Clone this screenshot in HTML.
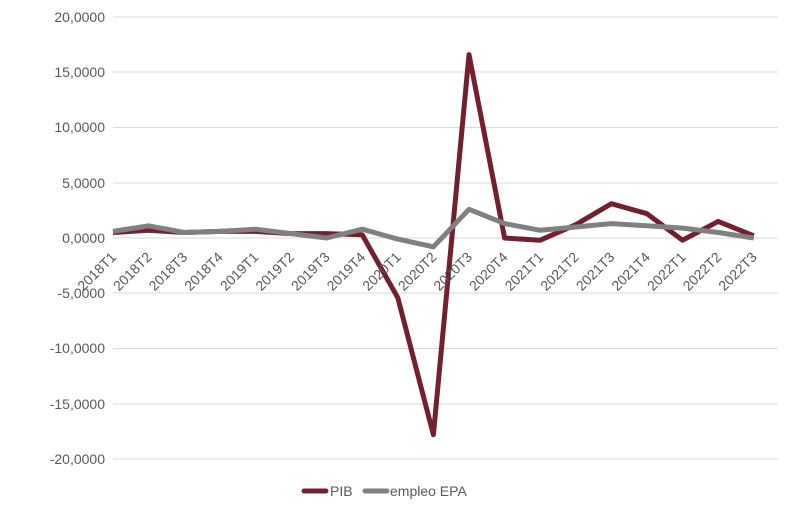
<!DOCTYPE html>
<html><head><meta charset="utf-8"><style>body{margin:0;background:#fff}svg{display:block}text{font-family:"Liberation Sans",sans-serif;fill:#595959;font-size:14px}</style></head><body>
<svg width="785" height="512" xmlns="http://www.w3.org/2000/svg">
<g stroke="#d9d9d9" stroke-width="1">
<line x1="113" x2="778" y1="17" y2="17"/><line x1="113" x2="778" y1="72" y2="72"/><line x1="113" x2="778" y1="127.5" y2="127.5"/><line x1="113" x2="778" y1="183" y2="183"/><line x1="113" x2="778" y1="238" y2="238"/><line x1="113" x2="778" y1="293" y2="293"/><line x1="113" x2="778" y1="348.5" y2="348.5"/><line x1="113" x2="778" y1="404" y2="404"/><line x1="113" x2="778" y1="459" y2="459"/>
</g>
<g text-anchor="end">
<text x="105" y="22">20,0000</text><text x="105" y="77">15,0000</text><text x="105" y="132">10,0000</text><text x="105" y="188">5,0000</text><text x="105" y="243">0,0000</text><text x="105" y="298">-5,0000</text><text x="105" y="353">-10,0000</text><text x="105" y="409">-15,0000</text><text x="105" y="464">-20,0000</text>
</g>
<polyline fill="none" stroke="#722030" stroke-width="5" stroke-linejoin="round" points="113,232.5 148.6,230.3 184.2,232.5 219.8,231.4 255.4,231.4 291,233.6 326.6,233.6 362.2,234.7 397.8,297.7 433.4,434.7 469,54.6 504.6,238 540.2,240.2 575.8,224.7 611.4,203.7 647,213.7 682.6,240.2 718.2,221.4 753.8,235.8"/>
<polyline fill="none" stroke="#808080" stroke-width="5" stroke-linejoin="round" points="113,231.4 148.6,225.8 184.2,232.5 219.8,231.4 255.4,229.2 291,233.6 326.6,238 362.2,229.2 397.8,239.1 433.4,246.8 469,209.3 504.6,223.6 540.2,230.3 575.8,227 611.4,223.6 647,225.8 682.6,228.1 718.2,232.5 753.8,238"/>
<g text-anchor="end" style="font-size:15px">
<text transform="translate(117,258) rotate(-45)">2018T1</text>
<text transform="translate(152.6,258) rotate(-45)">2018T2</text>
<text transform="translate(188.2,258) rotate(-45)">2018T3</text>
<text transform="translate(223.8,258) rotate(-45)">2018T4</text>
<text transform="translate(259.4,258) rotate(-45)">2019T1</text>
<text transform="translate(295,258) rotate(-45)">2019T2</text>
<text transform="translate(330.6,258) rotate(-45)">2019T3</text>
<text transform="translate(366.2,258) rotate(-45)">2019T4</text>
<text transform="translate(401.8,258) rotate(-45)">2020T1</text>
<text transform="translate(437.4,258) rotate(-45)">2020T2</text>
<text transform="translate(473,258) rotate(-45)">2020T3</text>
<text transform="translate(508.6,258) rotate(-45)">2020T4</text>
<text transform="translate(544.2,258) rotate(-45)">2021T1</text>
<text transform="translate(579.8,258) rotate(-45)">2021T2</text>
<text transform="translate(615.4,258) rotate(-45)">2021T3</text>
<text transform="translate(651,258) rotate(-45)">2021T4</text>
<text transform="translate(686.6,258) rotate(-45)">2022T1</text>
<text transform="translate(722.2,258) rotate(-45)">2022T2</text>
<text transform="translate(757.8,258) rotate(-45)">2022T3</text>
</g>
<line x1="304" x2="326" y1="491" y2="491" stroke="#722030" stroke-width="5" stroke-linecap="round"/>
<text x="330" y="496">PIB</text>
<line x1="365" x2="387" y1="491" y2="491" stroke="#808080" stroke-width="5" stroke-linecap="round"/>
<text x="390" y="496">empleo EPA</text>
</svg>
</body></html>
